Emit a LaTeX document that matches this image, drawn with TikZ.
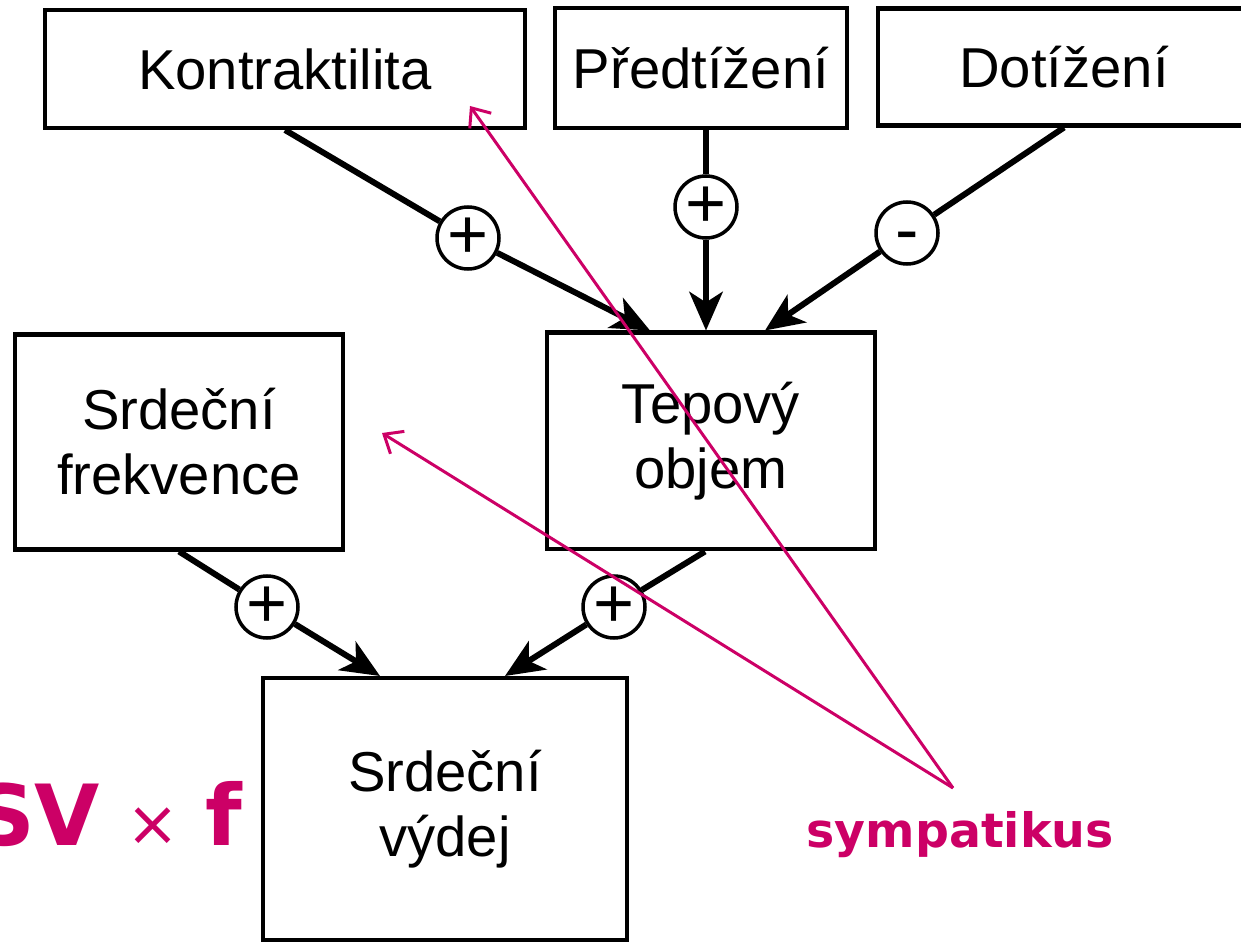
\documentclass[tikz,border=0pt]{standalone}
\usepackage{fontspec}
\setmainfont{Liberation Sans}
\newfontfamily\sympfont{DejaVu Sans}
\usetikzlibrary{arrows.meta}
\definecolor{sympcolor}{RGB}{204,0,102}

\begin{document}
\begin{tikzpicture}[x=0.02cm, y=-0.02cm,
    box/.style={draw, line width=2.3pt, align=center, inner sep=0pt,
      font=\fontsize{32}{37}\selectfont},
    sign/.style={draw, circle, fill=white, line width=2pt, inner sep=0pt,
      minimum size=1.24cm, font=\fontsize{40}{40}\selectfont},
    vazba/.style={line width=3.4pt, -{Stealth[length=22pt,width=19pt,inset=6pt]}},
    symp/.style={sympcolor, line width=1.7pt, -{Straight Barb[length=9pt,width=15pt]}}]
  \useasboundingbox (0,0) rectangle (1241,942);
  % boxes
  \node[box, minimum width=9.6cm, minimum height=2.36cm] (kon) at (285,69) {Kontraktilita};
  \node[box, minimum width=5.84cm, minimum height=2.4cm] (pred) at (701,68) {Předtížení};
  \node[box, minimum width=7.44cm, minimum height=2.34cm] (dot) at (1064,67) {Dotížení};
  \node[box, minimum width=6.56cm, minimum height=4.3cm] (sf) at (179,442) {Srdeční\\frekvence};
  \node[box, minimum width=6.56cm, minimum height=4.34cm] (tep) at (711,441) {Tepový\\objem};
  \node[box, minimum width=7.3cm, minimum height=5.24cm] (vyd) at (445,809) {Srdeční\\výdej};
  % signs
  \node[sign] (p1) at (468,238) {+};
  \node[sign] (p2) at (706,207) {+};
  \node[sign] (m1) at (907,233) {\vphantom{+}-};
  \node[sign] (p3) at (267,607) {+};
  \node[sign] (p4) at (614,607) {+};
  % arrows
  \draw[line width=3.4pt] (kon.south) -- (p1);
  \draw[vazba] (p1) -- ([xshift=-1.22cm]tep.north);
  \draw[line width=3.4pt] (p2 |- pred.south) -- (p2);
  \draw[vazba] (p2) -- (p2 |- tep.north);
  \draw[line width=3.4pt] (dot.south) -- (m1);
  \draw[vazba] (m1) -- ([xshift=1.08cm]tep.north);
  \draw[line width=3.4pt] (sf.south) -- (p3);
  \draw[vazba] (p3) -- ([xshift=-1.3cm]vyd.north);
  \draw[line width=3.4pt] ([xshift=-0.12cm]tep.south) -- (p4);
  \draw[vazba] (p4) -- ([xshift=1.2cm]vyd.north);
  % sympatikus
  \node[text=sympcolor, anchor=base east, inner sep=0pt,
    font=\sympfont\bfseries\fontsize{48}{52}\selectfont] (vzorec) at (243,845)
    {SV\hspace{15pt}{\mdseries\fontsize{36}{36}\selectfont ×}\hspace{15pt}f};
  \node[text=sympcolor, font=\sympfont\bfseries\fontsize{27}{30}\selectfont] (sym) at (960,835) {sympatikus};
  \coordinate (rozc) at (953,788);
  \coordinate (hrotK) at (470,106);
  \coordinate (hrotF) at (382,433);
  \draw[symp] (rozc) -- (hrotK);
  \draw[symp] (rozc) -- (hrotF);
\end{tikzpicture}
\end{document}
